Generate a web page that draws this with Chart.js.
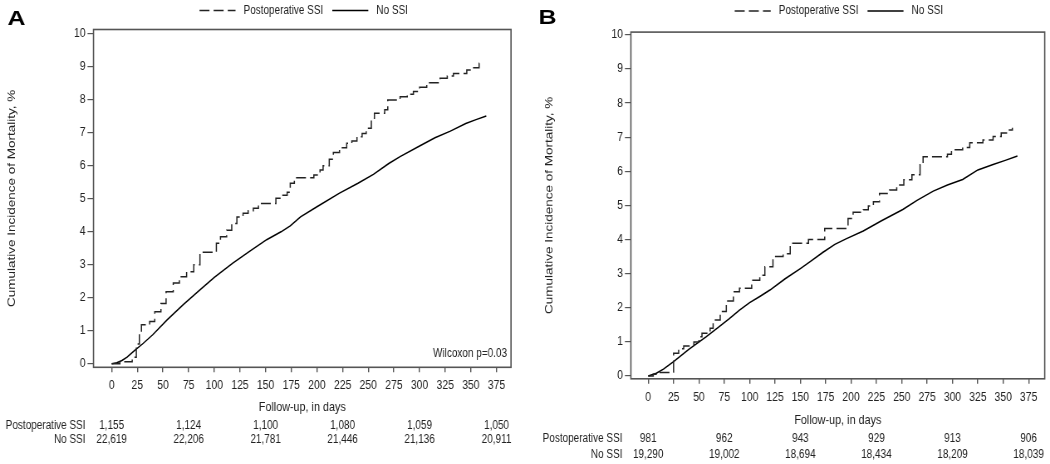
<!DOCTYPE html>
<html>
<head>
<meta charset="utf-8">
<script src="https://cdn.jsdelivr.net/npm/chart.js@4.4.1/dist/chart.umd.min.js"></script>
<style>
    html, body { margin: 0; padding: 0; background: #fff; }
    #wrap { position: relative; width: 1050px; height: 464px; }
    .panel { position: absolute; top: 0; width: 525px; height: 464px; }
</style>
</head>
<body>
<div id="wrap">
    <div class="panel" style="left:0"><canvas id="chart-a" width="632" height="464" style="width:525px;height:464px"></canvas></div>
    <div class="panel" style="left:525px"><canvas id="chart-b" width="632" height="464" style="width:525px;height:464px"></canvas></div>
</div>
<script>
var dayTicks = [0, 25, 50, 75, 100, 125, 150, 175, 200, 225, 250, 275, 300, 325, 350, 375];
var pctTicks = [0, 1, 2, 3, 4, 5, 6, 7, 8, 9, 10];
var riskDays = [0, 75, 150, 225, 300, 375];
var groupNames = ['Postoperative SSI', 'No SSI'];

// Panel A
var ssiDaysA = [0, 8, 20, 24, 27, 29, 37, 42, 48, 53, 60, 66, 73, 80, 86, 102, 106, 112, 117, 122, 128, 133, 138, 143, 160, 166, 171, 174, 178, 197, 203, 206, 212, 216, 222, 229, 234, 239, 244, 248, 253, 256, 266, 269, 281, 288, 294, 300, 307, 320, 327, 333, 346, 352, 358, 361];
var ssiPctA  = [0, 0.06, 0.2, 0.6, 0.95, 1.18, 1.28, 1.58, 1.83, 2.18, 2.45, 2.64, 2.79, 3.0, 3.38, 3.65, 3.85, 4.05, 4.25, 4.45, 4.56, 4.64, 4.71, 4.86, 5.02, 5.11, 5.2, 5.47, 5.64, 5.72, 5.87, 6.0, 6.2, 6.4, 6.55, 6.68, 6.75, 6.88, 6.98, 7.14, 7.44, 7.59, 7.7, 7.99, 8.09, 8.17, 8.25, 8.38, 8.52, 8.65, 8.72, 8.80, 8.90, 8.97, 9.11, 9.15];
var noSsiDaysA = [0, 5, 10, 15, 23, 30, 40, 54, 70, 86, 100, 118, 135, 151, 165, 174, 184, 200, 222, 240, 255, 270, 281, 300, 315, 330, 345, 355, 365];
var noSsiPctA  = [0, 0.03, 0.1, 0.2, 0.42, 0.6, 0.88, 1.33, 1.8, 2.24, 2.62, 3.05, 3.42, 3.76, 4.0, 4.18, 4.45, 4.76, 5.17, 5.47, 5.74, 6.07, 6.28, 6.6, 6.85, 7.05, 7.28, 7.4, 7.51];
var riskSsiA   = ['1,155', '1,124', '1,100', '1,080', '1,059', '1,050'];
var riskNoSsiA = ['22,619', '22,206', '21,781', '21,446', '21,136', '20,911'];

// Panel B
var ssiDaysB = [0, 5, 11, 21, 25, 30, 35, 45, 50, 53, 61, 64, 71, 77, 84, 90, 102, 110, 115, 123, 133, 140, 158, 174, 197, 202, 212, 217, 222, 228, 238, 245, 252, 260, 268, 271, 295, 299, 310, 317, 330, 340, 348, 356, 359];
var ssiPctB  = [0, 0.05, 0.10, 0.12, 0.67, 0.8, 0.88, 1.0, 1.15, 1.25, 1.40, 1.64, 1.89, 2.2, 2.47, 2.57, 2.81, 2.95, 3.2, 3.5, 3.58, 3.89, 4.0, 4.32, 4.62, 4.8, 4.87, 4.98, 5.11, 5.35, 5.45, 5.6, 5.75, 5.9, 6.19, 6.43, 6.5, 6.63, 6.70, 6.84, 6.92, 7.02, 7.12, 7.21, 7.28];
var noSsiDaysB = [0, 8, 15, 25, 40, 57, 70, 80, 90, 100, 110, 120, 135, 150, 160, 172, 184, 195, 212, 230, 251, 265, 281, 295, 310, 325, 340, 352, 364];
var noSsiPctB  = [0, 0.08, 0.2, 0.42, 0.78, 1.15, 1.45, 1.68, 1.93, 2.15, 2.33, 2.52, 2.85, 3.15, 3.36, 3.62, 3.86, 4.02, 4.25, 4.55, 4.88, 5.15, 5.42, 5.6, 5.76, 6.04, 6.2, 6.32, 6.45];
var riskSsiB   = ['981', '962', '943', '929', '913', '906'];
var riskNoSsiB = ['19,290', '19,002', '18,694', '18,434', '18,209', '18,039'];

// the figure is a horizontally squeezed SAS plot: draw wide, show narrow
var CW = 632;
var SQ = 525 / CW;
function cx(px) { return px / SQ; }

var FONT = '"Liberation Sans", Arial, sans-serif';
Chart.defaults.font.family = FONT;
Chart.defaults.font.size = 12;
Chart.defaults.color = '#222';

function toPoints(days, pct) {
    return days.map(function(d, i) { return {x: d, y: pct[i]}; });
}

var panelDecor = {
    id: 'panelDecor',
    afterDraw: function(chart, args, o) {
        var ctx = chart.ctx;
        var area = chart.chartArea;
        var xs = chart.scales.x;
        ctx.save();
        // frame round the plot
        ctx.strokeStyle = '#555';
        ctx.lineWidth = 1.6;
        ctx.setLineDash([]);
        ctx.strokeRect(area.left, area.top, area.right - area.left, area.bottom - area.top);

        // panel letter
        ctx.fillStyle = '#000';
        ctx.font = 'bold 20px ' + FONT;
        ctx.textAlign = 'left';
        ctx.textBaseline = 'alphabetic';
        ctx.save();
        ctx.translate(o.letterX, o.letterY);
        ctx.scale(1.5, 1);
        ctx.fillText(o.letter, 0, 0);
        ctx.restore();

        // legend
        ctx.font = '12px ' + FONT;
        ctx.textBaseline = 'middle';
        ctx.fillStyle = '#222';
        var lx = o.legendX;
        chart.data.datasets.forEach(function(ds) {
            ctx.beginPath();
            ctx.setLineDash(ds.borderDash || []);
            ctx.strokeStyle = ds.borderColor;
            ctx.lineWidth = 1.3;
            ctx.moveTo(lx, o.legendY);
            ctx.lineTo(lx + cx(36), o.legendY);
            ctx.stroke();
            ctx.setLineDash([]);
            lx += cx(44);
            ctx.fillText(ds.label, lx, o.legendY);
            lx += ctx.measureText(ds.label).width + cx(9);
        });

        // numbers at risk
        var rows = [o.riskSsi, o.riskNoSsi];
        rows.forEach(function(row, r) {
            var y = o.riskY[r];
            ctx.textAlign = 'right';
            ctx.fillText(groupNames[r], o.riskLabelX, y);
            ctx.textAlign = 'center';
            row.forEach(function(v, i) {
                ctx.fillText(v, xs.getPixelForValue(riskDays[i]), y);
            });
        });

        if (o.note) {
            ctx.textAlign = 'right';
            ctx.fillText(o.note, area.right - cx(4), area.bottom - 14);
        }
        ctx.restore();
    }
};

function makePanel(canvasId, cfg) {
    var frame = cfg.frame;
    return new Chart(document.getElementById(canvasId), {
        type: 'line',
        data: {
            datasets: [{
                label: groupNames[0],
                data: toPoints(cfg.ssiDays, cfg.ssiPct),
                borderColor: '#222',
                borderWidth: 1.5,
                borderDash: [12, 5],
                stepped: 'before',
                pointRadius: 0,
                fill: false
            }, {
                label: groupNames[1],
                data: toPoints(cfg.noSsiDays, cfg.noSsiPct),
                borderColor: '#000',
                borderWidth: 1.5,
                pointRadius: 0,
                tension: 0,
                fill: false
            }]
        },
        options: {
            responsive: false,
            animation: false,
            devicePixelRatio: 1,
            layout: {
                padding: {top: frame.top, right: CW - frame.right, bottom: 464 - frame.bottom - cfg.xAxisH, left: 0}
            },
            plugins: {
                legend: {display: false},
                tooltip: {enabled: false},
                panelDecor: cfg.decor
            },
            scales: {
                x: {
                    type: 'linear',
                    min: cfg.xMin,
                    max: cfg.xMax,
                    afterBuildTicks: function(s) { s.ticks = dayTicks.map(function(v) { return {value: v}; }); },
                    afterFit: function(s) { s.height = cfg.xAxisH; },
                    border: {display: false},
                    grid: {drawOnChartArea: false, drawTicks: true, tickLength: 5, color: '#555', lineWidth: 1.4},
                    ticks: {autoSkip: false, maxRotation: 0, padding: 6, color: '#222', font: {size: 12.5}},
                    title: {display: true, text: 'Follow-up, in days', font: {size: 13}, color: '#222', padding: {top: 0, bottom: 0}}
                },
                y: {
                    type: 'linear',
                    min: cfg.yMin,
                    max: cfg.yMax,
                    afterBuildTicks: function(s) { s.ticks = pctTicks.map(function(v) { return {value: v}; }); },
                    afterFit: function(s) { s.width = frame.left; },
                    border: {display: false},
                    grid: {drawOnChartArea: false, drawTicks: true, tickLength: cx(6), color: '#555', lineWidth: 1.2},
                    ticks: {padding: cx(2), color: '#222', font: {size: 12.5}},
                    title: {display: true, text: 'Cumulative Incidence of Mortality, %', font: {size: 13.5}, color: '#222', padding: {top: cfg.yTitlePad, bottom: 0}}
                }
            }
        },
        plugins: [panelDecor]
    });
}

var chartA = makePanel('chart-a', {
    ssiDays: ssiDaysA, ssiPct: ssiPctA, noSsiDays: noSsiDaysA, noSsiPct: noSsiPctA,
    frame: {left: cx(93.5), top: 29.5, right: cx(511), bottom: 367.3},
    xMin: -17.7, xMax: 389.1, yMin: -0.106, yMax: 10.13,
    xAxisH: 48.3, yTitlePad: cx(12) - 8.1,
    decor: {
        letter: 'A', letterX: cx(7.5), letterY: 24.5,
        legendX: cx(199.5), legendY: 10.5,
        riskSsi: riskSsiA, riskNoSsi: riskNoSsiA,
        riskY: [425.4, 439.6], riskLabelX: cx(85.5),
        note: 'Wilcoxon p=0.03'
    }
});

var chartB = makePanel('chart-b', {
    ssiDays: ssiDaysB, ssiPct: ssiPctB, noSsiDays: noSsiDaysB, noSsiPct: noSsiPctB,
    frame: {left: cx(105.9), top: 32.1, right: cx(519.7), bottom: 378.8},
    xMin: -17.05, xMax: 390.9, yMin: -0.082, yMax: 10.08,
    xAxisH: 49, yTitlePad: cx(24) - 8.1,
    decor: {
        letter: 'B', letterX: cx(13.5), letterY: 23.5,
        legendX: cx(209.7), legendY: 11,
        riskSsi: riskSsiB, riskNoSsi: riskNoSsiB,
        riskY: [438.6, 454.8], riskLabelX: cx(97.4),
        note: ''
    }
});
</script>
</body>
</html>
